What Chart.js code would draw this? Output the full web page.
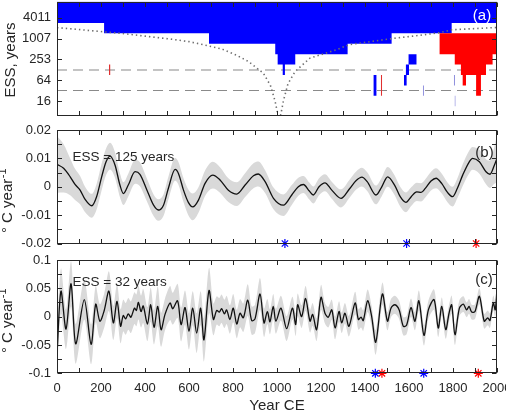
<!DOCTYPE html>
<html><head><meta charset="utf-8">
<script src="https://cdn.jsdelivr.net/npm/chart.js@4.4.1/dist/chart.umd.min.js"></script>
<style>
html,body{margin:0;padding:0;background:#fff;}
#wrap{position:relative;width:506px;height:418px;overflow:hidden;background:#fff;}
#wrap canvas{position:absolute;left:0;top:0;}
</style></head><body>
<div id="wrap">
<canvas id="ca" width="506" height="418"></canvas>
<canvas id="cb" width="506" height="418"></canvas>
<canvas id="cc" width="506" height="418"></canvas>
</div>
<script>
// ---------------- DATA ----------------
const xTickMarks = [0,100,200,300,400,500,600,700,800,900,1000,1100,1200,1300,1400,1500,1600,1700,1800,1900,2000];
const xTickLabels = [0,200,400,600,800,1000,1200,1400,1600,1800,2000];

// panel (a): ESS scale-space map
const essTickVals = [16,64,253,1007,4011];
const essTickText = ['16','64','253','1007','4011'];
const essLines = [125,32];
const blueYears = [0,214,214,691,691,992,992,1003,1003,1026,1026,1036,1036,1083,1083,1321,1321,1521,1521,1794,1794,2000];
const blueESS   = [2840,2840,1420,1420,712,712,358,358,180,180,90,90,180,180,358,358,712,712,1420,1420,2840,2840];
const redYears  = [1738,1808,1808,1836,1836,1844,1844,1859,1859,1905,1905,1927,1927,1950,1950,1980,1980,2000];
const redESS    = [358,358,180,180,90,90,45,45,90,90,22.6,22.6,90,90,180,180,358,358];
const redTopESS = 1420;
// [startYear, endYear, lowESS, highESS]
const bluePatches   = [[1438,1453,22.6,90],[1597,1635,180,358],[1585,1600,90,180],[1577,1590,45,90]];
const redPatches    = [[236,243,90,180],[1472,1478,22.6,90]];
const purplePatches = [[1663,1668,22.6,45],[1804,1809,45,90],[1807,1812,11.3,22.6]];
const dotYears = [0,100,200,300,400,514,600,665,750,817,870,938,970,991,1005,1010,1020,1029,1050,1082,1150,1271,1327,1400,1521,1650,1738,1794,1900,2000];
const dotESS   = [2080,1830,1600,1400,1180,976,820,668,500,330,220,101,45,16,6,4,8,16,50,113,275,479,668,780,1000,1250,1480,1800,1950,2100];

// panel (b): ESS = 125 years
const yearsB = [0,30,60,82,105,127,158,180,203,223,241,264,286,302,324,355,377,409,439,461,484,506,537,552,575,597,617,643,673,708,741,779,817,855,893,915,946,984,1029,1067,1097,1120,1147,1165,1191,1218,1249,1291,1329,1360,1386,1410,1450,1475,1503,1535,1560,1586,1610,1635,1655,1675,1700,1723,1750,1775,1798,1820,1844,1874,1889,1920,1950,1968,1988,2000];
const rateB  = [0.0079,0.0065,0.0035,0.0008,-0.0012,-0.0044,-0.0067,-0.0035,0.0035,0.0088,0.0108,0.0076,0.0006,-0.0024,0.0006,0.0053,0.0044,-0.0012,-0.0065,-0.0082,-0.0065,-0.0006,0.0061,0.0047,-0.0012,-0.0055,-0.0071,-0.0047,0.0012,0.0041,0.0024,-0.0012,-0.0026,0.0006,0.0039,0.0045,0.0018,-0.0041,-0.0065,-0.0029,0.0000,0.0008,-0.0015,-0.0029,0.0000,0.0014,-0.0012,-0.0041,-0.0008,0.0022,0.0034,0.0018,-0.0029,-0.0002,0.0035,0.0005,-0.0035,-0.0055,-0.0035,-0.0018,-0.0020,-0.0005,0.0020,0.0030,0.0010,-0.0020,-0.0035,-0.0005,0.0041,0.0088,0.0100,0.0088,0.0053,0.0044,0.0076,0.0100];
const spreadB = [0.0100,0.0085,0.0065,0.0055,0.0050,0.0045,0.0042,0.0045,0.0047,0.0047,0.0047,0.0045,0.0042,0.0040,0.0040,0.0042,0.0042,0.0040,0.0038,0.0038,0.0038,0.0040,0.0040,0.0040,0.0042,0.0045,0.0047,0.0045,0.0045,0.0047,0.0045,0.0042,0.0042,0.0042,0.0044,0.0044,0.0040,0.0038,0.0038,0.0035,0.0032,0.0030,0.0030,0.0030,0.0030,0.0030,0.0030,0.0032,0.0032,0.0032,0.0033,0.0033,0.0033,0.0033,0.0035,0.0035,0.0035,0.0035,0.0033,0.0032,0.0032,0.0032,0.0033,0.0035,0.0035,0.0035,0.0035,0.0035,0.0038,0.0040,0.0040,0.0042,0.0044,0.0048,0.0065,0.0085];
const starsBBlue = [1036,1589];
const starsBRed  = [1905];
const yTickMarksB = [-0.02,-0.015,-0.01,-0.005,0,0.005,0.01,0.015,0.02];
const yLabelValsB = [-0.02,-0.01,0,0.01,0.02];
const yLabelTextB = ['-0.02','-0.01','0','0.01','0.02'];

// panel (c): ESS = 32 years
const yearsC = [0,18,41,64,85,124,155,176,195,214,236,256,273,289,301,312,324,336,352,361,370,382,392,411,426,441,458,473,491,514,526,548,564,582,600,617,635,653,668,691,711,726,738,748,761,771,786,801,817,832,847,867,885,900,923,941,956,968,983,995,1018,1044,1070,1085,1094,1112,1130,1150,1162,1180,1200,1218,1233,1249,1264,1282,1294,1309,1327,1355,1370,1382,1392,1412,1430,1449,1479,1502,1518,1536,1555,1574,1589,1609,1627,1645,1668,1688,1714,1733,1749,1767,1782,1794,1809,1829,1847,1862,1873,1885,1900,1920,1942,1958,1968,1983,1992,2000];
const rateC  = [-0.067,0.045,-0.022,0.058,-0.048,0.030,-0.049,0.022,-0.008,0.010,0.045,-0.011,0.027,-0.017,0.002,-0.004,0.005,-0.001,0.015,0.011,0.025,0.009,0.019,-0.013,0.021,-0.019,0.018,-0.023,0.004,0.024,0.014,0.028,-0.014,0.016,-0.026,0.015,-0.029,0.015,-0.041,0.046,-0.005,0.011,0.008,0.014,0.005,0.012,-0.005,0.015,-0.013,0.006,-0.002,0.029,-0.007,-0.004,0.040,-0.011,0.009,-0.009,0.018,-0.008,0.015,-0.021,0.015,-0.014,0.021,0.000,0.032,-0.008,0.004,-0.023,0.034,0.006,-0.001,0.012,-0.020,0.009,-0.011,0.006,-0.017,0.024,-0.005,-0.001,-0.007,0.028,0.001,-0.045,0.040,-0.008,0.015,0.021,0.012,-0.017,-0.015,0.016,-0.008,0.028,-0.033,0.012,0.030,-0.020,0.018,-0.023,0.006,0.021,-0.032,0.015,0.022,0.012,0.018,0.008,0.009,0.036,-0.008,-0.002,-0.007,0.024,0.012,0.049];
const spreadC = [0.035,0.040,0.035,0.040,0.035,0.035,0.035,0.032,0.030,0.030,0.035,0.030,0.030,0.030,0.028,0.028,0.028,0.028,0.028,0.028,0.030,0.028,0.030,0.030,0.030,0.030,0.035,0.030,0.028,0.030,0.028,0.030,0.030,0.030,0.032,0.030,0.035,0.030,0.038,0.040,0.028,0.025,0.025,0.025,0.025,0.025,0.025,0.025,0.025,0.025,0.025,0.028,0.025,0.025,0.028,0.025,0.022,0.022,0.022,0.022,0.022,0.022,0.020,0.020,0.020,0.020,0.022,0.020,0.020,0.020,0.022,0.018,0.018,0.018,0.020,0.018,0.018,0.018,0.018,0.020,0.018,0.018,0.018,0.020,0.018,0.022,0.020,0.016,0.016,0.016,0.016,0.016,0.016,0.016,0.016,0.018,0.018,0.016,0.018,0.016,0.016,0.016,0.015,0.016,0.018,0.014,0.014,0.013,0.013,0.013,0.013,0.014,0.013,0.013,0.013,0.013,0.013,0.015];
const starsCBlue = [1447,1667];
const starsCRed  = [1477,1915];
const yTickMarksC = [-0.1,-0.075,-0.05,-0.025,0,0.025,0.05,0.075,0.1];
const yLabelValsC = [-0.1,-0.05,0,0.05,0.1];
const yLabelTextC = ['-0.1','-0.05','0','0.05','0.1'];

// ---------------- STYLE / HELPERS ----------------
const FONT = '"Liberation Sans", Arial, Helvetica, sans-serif';
const AX = '#262626';
const BLUE = '#0000ff', RED = '#ff0000', PURPLE = '#8c8cdc', BAND = '#d9d9d9';
const zip = (xs, ys) => xs.map((x, i) => ({x, y: ys[i]}));

const framePlugin = {
  id: 'frame',
  afterDatasetsDraw(chart, args, o) {
    const {ctx, chartArea: a} = chart;
    const xs = chart.scales.x, ys = chart.scales.y;
    ctx.save();
    ctx.strokeStyle = AX; ctx.lineWidth = 1;
    const L = Math.round(a.left) + 0.5, R = Math.round(a.right) - 0.5;
    const T = Math.round(a.top) + 0.5, B = Math.round(a.bottom) - 0.5;
    const tl = 4.5;
    ctx.beginPath();
    xTickMarks.forEach(v => {
      const p = Math.round(xs.getPixelForValue(v)) + 0.5;
      ctx.moveTo(p, B); ctx.lineTo(p, B - tl);
      ctx.moveTo(p, T); ctx.lineTo(p, T + tl);
    });
    (o.yTicks || []).forEach(v => {
      const p = Math.round(ys.getPixelForValue(v)) + 0.5;
      ctx.moveTo(L, p); ctx.lineTo(L + tl, p);
      ctx.moveTo(R, p); ctx.lineTo(R - tl, p);
    });
    ctx.stroke();
    ctx.strokeRect(L, T, R - L, B - T);
    (o.texts || []).forEach(t => {
      ctx.save();
      ctx.fillStyle = t.color || AX;
      ctx.font = (t.size || 14) + 'px ' + FONT;
      ctx.textBaseline = t.baseline || 'middle';
      ctx.textAlign = t.align || 'left';
      if (t.rotate) {
        ctx.translate(t.x, t.y);
        ctx.rotate(-Math.PI / 2);
        ctx.textBaseline = 'alphabetic';
        ctx.textAlign = 'left';
        const w1 = ctx.measureText(t.text).width;
        let w2 = 0;
        const supFont = Math.round((t.size || 14) * 0.7) + 'px ' + FONT;
        if (t.sup) { ctx.font = supFont; w2 = ctx.measureText(t.sup).width; ctx.font = (t.size || 14) + 'px ' + FONT; }
        const x0 = -(w1 + w2) / 2;
        ctx.fillText(t.text, x0, 0);
        if (t.sup) { ctx.font = supFont; ctx.fillText(t.sup, x0 + w1 + 0.5, -(t.size || 14) * 0.42); }
      } else {
        ctx.fillText(t.text, t.x, t.y);
      }
      ctx.restore();
    });
    ctx.restore();
  }
};

function xScale(show) {
  return {
    type: 'linear', min: 0, max: 2000,
    grid: {display: false, drawTicks: false}, border: {display: false},
    afterBuildTicks: s => { s.ticks = xTickLabels.map(v => ({value: v})); },
    ticks: {display: show, autoSkip: false, maxRotation: 0, padding: 7, color: AX,
            font: {family: FONT, size: 13}, callback: (v, i) => String(xTickLabels[i])},
    title: {display: show, text: 'Year CE', color: AX, font: {family: FONT, size: 15}, padding: {top: 0, bottom: 3}},
    afterFit: s => { s.paddingLeft = 0; s.paddingRight = 0; s.height = show ? 44.7 : 0; }
  };
}
function yScale(extra, vals, texts) {
  return Object.assign({
    grid: {display: false, drawTicks: false}, border: {display: false},
    afterBuildTicks: s => { s.ticks = vals.map(v => ({value: v})); },
    ticks: {autoSkip: false, padding: 6, color: AX, font: {family: FONT, size: 13},
            callback: (v, i) => texts[i]},
    afterFit: s => { s.width = 57; s.paddingTop = 0; s.paddingBottom = 0; }
  }, extra);
}
function baseOptions(top, bottom, x, y, frame) {
  return {
    responsive: false, animation: false, devicePixelRatio: 1, events: [],
    layout: {padding: {left: 0, right: 9, top, bottom}},
    plugins: {legend: {display: false}, tooltip: {enabled: false}, frame},
    scales: {x, y},
    elements: {point: {radius: 0}, line: {borderCapStyle: 'butt'}}
  };
}
const NONE = 'rgba(0,0,0,0)';

// ---------------- PANEL (a) ----------------
const dsA = [];
essLines.forEach(v => dsA.push({data: [{x: 0, y: v}, {x: 2000, y: v}], borderColor: '#8a8a8a', borderWidth: 1.2, borderDash: [10, 6], fill: false, order: 20}));
dsA.push({data: zip(blueYears, blueESS), borderColor: NONE, borderWidth: 0, backgroundColor: BLUE, fill: 'end', order: 10});
dsA.push({data: zip(redYears, redESS), borderColor: NONE, borderWidth: 0, backgroundColor: RED, fill: {value: redTopESS}, order: 9});
const addPatches = (list, color) => list.forEach(p => dsA.push({
  data: [{x: p[0], y: p[2]}, {x: p[1], y: p[2]}], borderColor: NONE, borderWidth: 0,
  backgroundColor: color, fill: {value: p[3]}, order: 8}));
addPatches(bluePatches, BLUE);
addPatches(redPatches, '#e03030');
addPatches(purplePatches, PURPLE);
dsA.push({data: zip(dotYears, dotESS), borderColor: '#6e6e6e', borderWidth: 1.6, borderDash: [1.4, 3], fill: false, order: 1});

new Chart(document.getElementById('ca'), {
  type: 'line',
  data: {datasets: dsA},
  options: baseOptions(1.5, 302, xScale(false),
    yScale({type: 'logarithmic', min: 5.9, max: 11760}, essTickVals, essTickText),
    {yTicks: essTickVals, texts: [
      {text: '(a)', x: 482, y: 16, size: 15, color: '#ffffff', align: 'center'},
      {text: 'ESS, years', x: 15, y: 60, size: 15, rotate: true}
    ]}),
  plugins: [framePlugin]
});

// ---------------- PANEL (b) ----------------
const lowB = yearsB.map((x, i) => ({x, y: rateB[i] - spreadB[i]}));
const highB = yearsB.map((x, i) => ({x, y: rateB[i] + spreadB[i]}));
new Chart(document.getElementById('cb'), {
  type: 'line',
  data: {datasets: [
    {data: lowB, borderColor: NONE, borderWidth: 0, fill: false, cubicInterpolationMode: 'monotone', order: 5},
    {data: highB, borderColor: NONE, borderWidth: 0, backgroundColor: BAND, fill: '-1', cubicInterpolationMode: 'monotone', order: 4},
    {data: zip(yearsB, rateB), borderColor: '#111', borderWidth: 1.3, fill: false, cubicInterpolationMode: 'monotone', order: 2},
    {data: starsBBlue.map(x => ({x, y: -0.02})), showLine: false, pointStyle: 'star', pointRadius: 4.5, pointBorderWidth: 1.2, borderColor: BLUE, pointBorderColor: BLUE, clip: false, order: 0},
    {data: starsBRed.map(x => ({x, y: -0.02})), showLine: false, pointStyle: 'star', pointRadius: 4.5, pointBorderWidth: 1.2, borderColor: RED, pointBorderColor: RED, clip: false, order: 0}
  ]},
  options: baseOptions(130, 174.5, xScale(false),
    yScale({type: 'linear', min: -0.02, max: 0.02}, yLabelValsB, yLabelTextB),
    {yTicks: yTickMarksB, texts: [
      {text: 'ESS = 125 years', x: 72.5, y: 157, size: 13.5},
      {text: '(b)', x: 484.5, y: 152.5, size: 15, align: 'center'},
      {text: '\u00B0 C year', sup: '-1', x: 12, y: 201, size: 15, rotate: true}
    ]}),
  plugins: [framePlugin]
});

// ---------------- PANEL (c) ----------------
const lowC = yearsC.map((x, i) => ({x, y: rateC[i] - spreadC[i]}));
const highC = yearsC.map((x, i) => ({x, y: rateC[i] + spreadC[i]}));
new Chart(document.getElementById('cc'), {
  type: 'line',
  data: {datasets: [
    {data: lowC, borderColor: NONE, borderWidth: 0, fill: false, tension: 0.3, order: 5},
    {data: highC, borderColor: NONE, borderWidth: 0, backgroundColor: BAND, fill: '-1', tension: 0.3, order: 4},
    {data: zip(yearsC, rateC), borderColor: '#111', borderWidth: 1.3, fill: false, tension: 0.3, order: 2},
    {data: starsCBlue.map(x => ({x, y: -0.1})), showLine: false, pointStyle: 'star', pointRadius: 4.5, pointBorderWidth: 1.2, borderColor: BLUE, pointBorderColor: BLUE, clip: false, order: 0},
    {data: starsCRed.map(x => ({x, y: -0.1})), showLine: false, pointStyle: 'star', pointRadius: 4.5, pointBorderWidth: 1.2, borderColor: RED, pointBorderColor: RED, clip: false, order: 0}
  ]},
  options: baseOptions(260, 0, xScale(true),
    yScale({type: 'linear', min: -0.1, max: 0.1}, yLabelValsC, yLabelTextC),
    {yTicks: yTickMarksC, texts: [
      {text: 'ESS = 32 years', x: 72.5, y: 282.5, size: 13.5},
      {text: '(c)', x: 484, y: 279.5, size: 15, align: 'center'},
      {text: '\u00B0 C year', sup: '-1', x: 12, y: 321, size: 15, rotate: true}
    ]}),
  plugins: [framePlugin]
});
</script>
</body></html>
